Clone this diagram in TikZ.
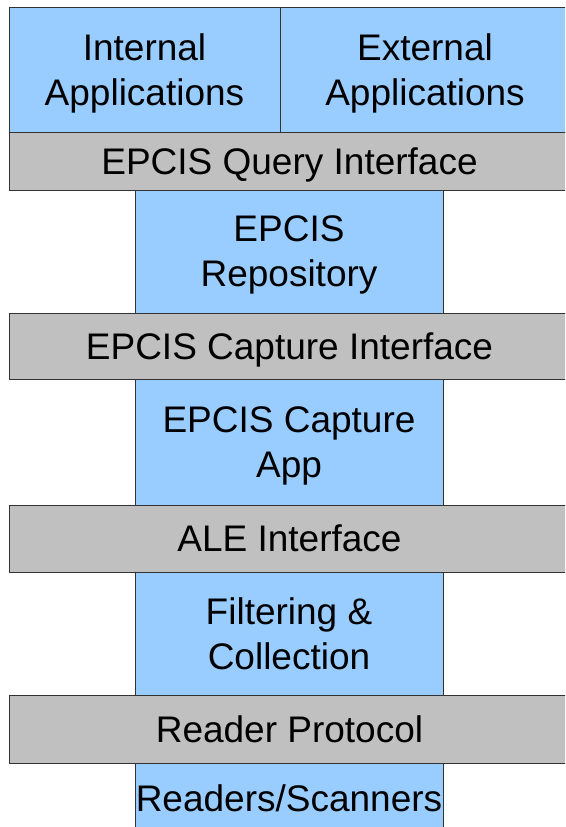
\documentclass[tikz,border=0pt]{standalone}
\usepackage{fontspec}
\setmainfont{Liberation Sans}
\usetikzlibrary{positioning}
\definecolor{layerblue}{HTML}{99CCFF}
\definecolor{layergray}{HTML}{C0C0C0}

\begin{document}
\begin{tikzpicture}[x=1pt, y=-1pt, node distance=0pt]
		\tikzstyle{layer} = [draw=black!80, line width=1pt, inner sep=0pt, outer sep=0pt, align=center, text depth=0pt, font=\fontsize{37}{45}\selectfont]
		\tikzstyle{app} = [layer, fill=layerblue, minimum height=125pt]
		\tikzstyle{iface} = [layer, fill=layergray, minimum width=561pt]
		\tikzstyle{stack} = [layer, fill=layerblue, minimum width=308pt]

		\useasboundingbox (0,0) rectangle (565,827);
		\clip (0,0) rectangle (565,827);

		\begin{scope}[]
		\path

		node[app, minimum width=271pt, anchor=north west] (internal) at (9,7) {Internal\\Applications}
		node[app, minimum width=290pt, right=0pt of internal] (external) {External\\Applications}
		node[iface, minimum height=58pt, anchor=north west] (query) at (internal.south west) {EPCIS Query Interface}
		node[stack, minimum height=123pt, below=0pt of query, xshift=-0.5pt] (repo) {EPCIS\\Repository}
		node[iface, minimum height=66pt, below=0pt of repo, xshift=0.5pt] (capture) {EPCIS Capture Interface}
		node[stack, minimum height=126pt, below=0pt of capture, xshift=-0.5pt] (captureapp) {EPCIS Capture\\App}
		node[iface, minimum height=67pt, below=0pt of captureapp, xshift=0.5pt] (ale) {ALE Interface}
		node[stack, minimum height=123pt, below=0pt of ale, xshift=-0.5pt] (filter) {Filtering \&\\Collection}
		node[iface, minimum height=68pt, below=0pt of filter, xshift=0.5pt] (reader) {Reader Protocol}
		node[stack, minimum height=70pt, below=0pt of reader, xshift=-0.5pt] (scanners) {Readers/Scanners}
		;
		\end{scope}

\end{tikzpicture}
\end{document}
